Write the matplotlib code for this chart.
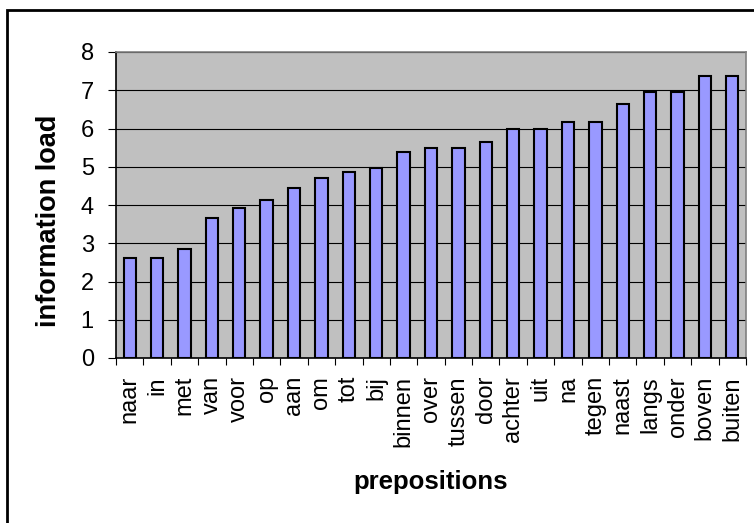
import matplotlib
matplotlib.use("Agg")
from matplotlib import pyplot as plt
from matplotlib.patches import Rectangle
import numpy as np

plt.rcParams['font.family'] = ['Liberation Sans', 'DejaVu Sans']

prepositions = ['naar', 'in', 'met', 'van', 'voor', 'op', 'aan', 'om', 'tot', 'bij',
                'binnen', 'over', 'tussen', 'door', 'achter', 'uit', 'na', 'tegen',
                'naast', 'langs', 'onder', 'boven', 'buiten']
info_load = [2.62, 2.62, 2.84, 3.67, 3.93, 4.13, 4.44, 4.71, 4.86, 4.97,
             5.38, 5.49, 5.49, 5.65, 5.98, 5.98, 6.17, 6.17,
             6.65, 6.96, 6.96, 7.37, 7.37]

fig = plt.figure(figsize=(7.54, 5.23), dpi=100)
# outer chart frame
fig.patches.append(Rectangle((7 / 754, -0.05), 1.1, 1 - 10 / 523 + 0.05,
                             transform=fig.transFigure, fill=False,
                             edgecolor='black', linewidth=2))

ax = fig.add_axes([116 / 754, 1 - 358 / 523, (746 - 116) / 754, (358 - 52) / 523])
ax.set_facecolor('#C0C0C0')

x = np.arange(len(prepositions))
ax.bar(x, info_load, width=0.45, color='#9999FF', edgecolor='black', linewidth=1.5, zorder=3)

ax.set_xlim(-0.5, len(prepositions) - 0.5)
ax.set_ylim(0, 8)
ax.set_yticks(range(0, 9))
ax.yaxis.grid(True, color='black', linewidth=0.8, zorder=0)
ax.set_axisbelow(True)

# category ticks sit between bars, labels centred under bars
ax.set_xticks(np.arange(-0.5, len(prepositions)), minor=False)
ax.set_xticklabels([])
ax.set_xticks(x, minor=True)
ax.set_xticklabels(prepositions, minor=True, rotation=90, fontsize=17)
ax.tick_params(axis='x', which='minor', length=0, pad=13)
ax.tick_params(axis='x', which='major', length=5, direction='out', color='black')
ax.tick_params(axis='y', length=6, direction='out', labelsize=17, pad=10)

for side in ['top', 'right']:
    ax.spines[side].set_color('#808080')
    ax.spines[side].set_linewidth(1.2)
for side in ['left', 'bottom']:
    ax.spines[side].set_color('black')
    ax.spines[side].set_linewidth(1.2)

ax.set_ylabel('information load', fontsize=19.5, fontweight='bold')
ax.yaxis.set_label_coords(-0.0857, 0.448)
ax.set_xlabel('prepositions', fontsize=18.5, fontweight='bold')
ax.xaxis.set_label_coords(0.5, -0.366)

plt.savefig('out.png', dpi=100)
